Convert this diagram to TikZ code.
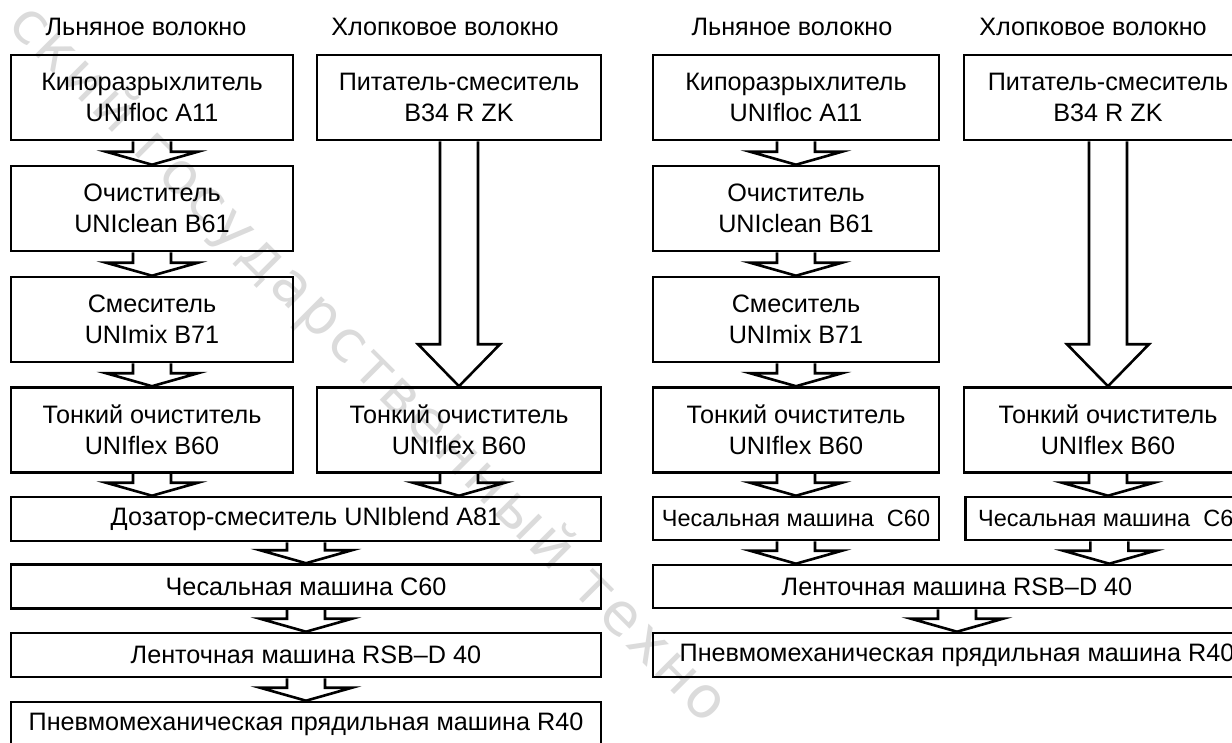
\documentclass[tikz,border=0pt]{standalone}
\usepackage{fontspec}
\setmainfont{Liberation Sans}
\newfontfamily\markfont[LetterSpace=7]{DejaVu Sans}
\usetikzlibrary{calc}
% hollow block arrow from the bottom of #1 to the top of #2
\newcommand{\fatarrow}[4]{%
  \draw[flow] ($(#1.south)+(-19,0)$) -- ($(#1.south |- #2.north)+(-19,-#3)$)
    -- ($(#1.south |- #2.north)+(-#4,-#3)$) -- (#1.south |- #2.north)
    -- ($(#1.south |- #2.north)+(#4,-#3)$) -- ($(#1.south |- #2.north)+(19,-#3)$)
    -- ($(#1.south)+(19,0)$);}
\begin{document}
\begin{tikzpicture}[x=1pt,y=-1pt,
    txt/.style={font=\fontsize{25.2}{30.5}\selectfont, inner sep=0pt},
    unit/.style={txt, draw, line width=2.6pt, align=center, minimum height=85pt},
    flat/.style={unit, minimum height=44pt},
    flow/.style={line width=2.6pt, line join=miter}]
    \useasboundingbox (0,0) rectangle (1232,742);
    \clip (0,0) rectangle (1232,742);
    % watermark
    \node[color=gray!28, font=\markfont\fontsize{58}{58}\selectfont, rotate=-45, anchor=base west] (mark) at (4,24) {ский государственный техно};
    % left scheme
    \node[txt] (hdrA) at (146,27) {Льняное волокно};
    \node[txt] (hdrB) at (445,27) {Хлопковое волокно};
    \node[unit, minimum width=282pt] (kipA) at (152,97.5) {Кипоразрыхлитель\\UNIfloc A11};
    \node[unit, minimum width=284pt] (pitA) at (459,97.5) {Питатель-смеситель\\B34 R ZK};
    \node[unit, minimum width=282pt] (ochA) at (152,208.5) {Очиститель\\UNIclean B61};
    \node[unit, minimum width=282pt] (smeA) at (152,319.5) {Смеситель\\UNImix B71};
    \node[unit, minimum width=282pt] (tonA) at (152,430) {Тонкий очиститель\\UNIflex B60};
    \node[unit, minimum width=284pt] (tonB) at (459,430) {Тонкий очиститель\\UNIflex B60};
    \node[flat, minimum width=590pt] (dozA) at (306,519) {Дозатор-смеситель UNIblend A81};
    \node[flat, minimum width=590pt] (chesA) at (306,586.5) {Чесальная машина C60};
    \node[flat, minimum width=590pt] (lentA) at (306,655) {Ленточная машина RSB--D 40};
    \node[flat, minimum width=590pt] (pnevA) at (306,724) {Пневмомеханическая прядильная машина R40};
    \fatarrow{kipA}{ochA}{13}{46}
    \fatarrow{ochA}{smeA}{13}{46}
    \fatarrow{smeA}{tonA}{13}{46}
    \fatarrow{pitA}{tonB}{42}{41}
    \fatarrow{tonA}{dozA}{13}{46}
    \fatarrow{tonB}{dozA}{13}{46}
    \fatarrow{dozA}{chesA}{13}{46}
    \fatarrow{chesA}{lentA}{13}{46}
    \fatarrow{lentA}{pnevA}{13}{46}
    % right scheme
    \node[txt] (hdrC) at (792,27) {Льняное волокно};
    \node[txt] (hdrD) at (1093,27) {Хлопковое волокно};
    \node[unit, minimum width=286pt] (kipC) at (796,97.5) {Кипоразрыхлитель\\UNIfloc A11};
    \node[unit, minimum width=288pt] (pitC) at (1108,97.5) {Питатель-смеситель\\B34 R ZK};
    \node[unit, minimum width=286pt] (ochC) at (796,208.5) {Очиститель\\UNIclean B61};
    \node[unit, minimum width=286pt] (smeC) at (796,319.5) {Смеситель\\UNImix B71};
    \node[unit, minimum width=286pt] (tonC) at (796,430) {Тонкий очиститель\\UNIflex B60};
    \node[unit, minimum width=288pt] (tonD) at (1108,430) {Тонкий очиститель\\UNIflex B60};
    \node[flat, minimum width=286pt, minimum height=43pt, font=\fontsize{23.5}{28}\selectfont] (chesC) at (796,518.5) {Чесальная машина\ \ C60};
    \node[flat, minimum width=288pt, minimum height=43pt, font=\fontsize{23.5}{28}\selectfont, anchor=west] (chesD) at (964,518.5) {\hspace{6pt}Чесальная машина\ \ C60};
    \node[flat, minimum width=608pt, minimum height=43pt] (lentC) at (957,586.5) {Ленточная машина RSB--D 40};
    \node[flat, minimum width=608pt] (pnevC) at (957,655) {Пневмомеханическая прядильная машина R40};
    \fatarrow{kipC}{ochC}{13}{46}
    \fatarrow{ochC}{smeC}{13}{46}
    \fatarrow{smeC}{tonC}{13}{46}
    \fatarrow{pitC}{tonD}{42}{41}
    \fatarrow{tonC}{chesC}{13}{46}
    \fatarrow{tonD}{chesD}{13}{46}
    \fatarrow{chesC}{lentC}{13}{46}
    \fatarrow{chesD}{lentC}{13}{46}
    \fatarrow{lentC}{pnevC}{13}{46}
\end{tikzpicture}
\end{document}
